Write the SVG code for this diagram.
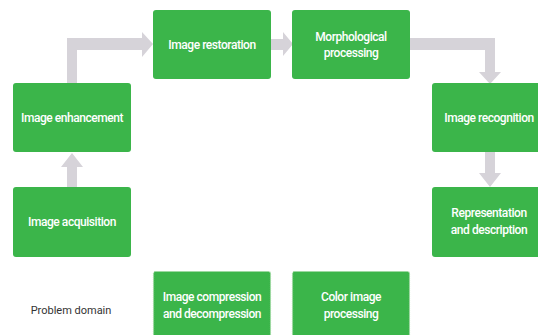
<svg xmlns="http://www.w3.org/2000/svg" width="538" height="335" viewBox="0 0 538 335">
<style>
.box{fill:#3bb54a}
.dot{fill:#3bb54a;stroke:#9ed89e;stroke-width:1.2;stroke-dasharray:1 1}
.t{font-family:Roboto,"Liberation Sans",sans-serif;font-size:12px;font-weight:500;fill:#fff;text-anchor:middle;letter-spacing:-0.45px}
.pd{font-family:Roboto,"Liberation Sans",sans-serif;font-size:11px;fill:#333;text-anchor:middle}
.ar{fill:#d6d3d9}
</style>
<rect width="538" height="335" fill="#fff"/>
<g id="connectors">
<path class="ar" d="M67 83 V38 H142 V32 L153 44 L142 57 V50 H77 V83 Z"/>
<path class="ar" d="M271 39 H283 V32 L293 44 L283 56 V50 H271 Z"/>
<path class="ar" d="M410 38 H495 V72 H501 L490 84 L479 72 H485 V50 H410 Z"/>
<path class="ar" d="M67 187 V167 H61 L72 153 L83 167 H77 V187 Z"/>
<path class="ar" d="M485 152 V173 H479 L490 187 L501 173 H495 V152 Z"/>
</g>
<g id="n-restoration"><rect class="box" x="153" y="10" width="118" height="69" rx="3"/><text class="t" x="212" y="49">Image restoration</text></g>
<g id="n-morph"><rect class="box" x="292" y="10" width="118" height="69" rx="3"/><text class="t" x="351" y="41">Morphological</text><text class="t" x="351" y="57">processing</text></g>
<g id="n-enhancement"><rect class="box" x="13" y="83" width="118" height="69" rx="3"/><text class="t" x="72" y="122">Image enhancement</text></g>
<g id="n-recognition"><rect class="box" x="432" y="83" width="120" height="69" rx="3"/><text class="t" x="489" y="122">Image recognition</text></g>
<g id="n-acquisition"><rect class="box" x="13" y="187" width="118" height="70" rx="3"/><text class="t" x="72" y="226">Image acquisition</text></g>
<g id="n-representation"><rect class="box" x="432" y="187" width="120" height="70" rx="3"/><text class="t" x="489" y="217">Representation</text><text class="t" x="489" y="234">and description</text></g>
<g id="n-compression"><rect class="dot" x="153.5" y="271.5" width="117" height="75" rx="2"/><text class="t" x="212" y="301">Image compression</text><text class="t" x="212" y="318">and decompression</text></g>
<g id="n-color"><rect class="dot" x="292.5" y="271.5" width="117" height="75" rx="2"/><text class="t" x="351" y="301">Color image</text><text class="t" x="351" y="318">processing</text></g>
<g id="n-problem"><text class="pd" x="71" y="314">Problem domain</text></g>
</svg>
